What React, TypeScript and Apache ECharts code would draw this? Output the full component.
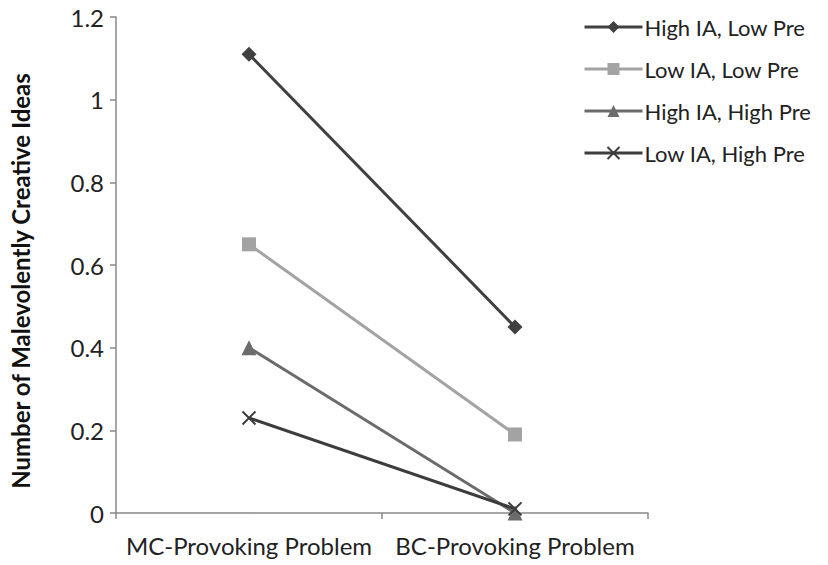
import React, { useEffect, useRef } from "react";
import * as echarts from "echarts";

const categories = ["MC-Provoking Problem", "BC-Provoking Problem"];
const seriesNames = ["High IA, Low Pre", "Low IA, Low Pre", "High IA, High Pre", "Low IA, High Pre"];
const highIALowPre = [1.11, 0.45];
const lowIALowPre = [0.65, 0.19];
const highIAHighPre = [0.4, 0.0];
const lowIAHighPre = [0.23, 0.01];
const yTicks = { min: 0, max: 1.2, interval: 0.2 };

const FONT = "Lato, 'Open Sans', sans-serif";

export default function App() {
  const ref = useRef<HTMLDivElement>(null);
  useEffect(() => {
    if (!ref.current) return;
    const chart = echarts.init(ref.current, undefined, { renderer: "svg" });
    const mk = (
      name: string,
      data: number[],
      color: string,
      symbol: string,
      symbolSize: number,
      extra: any = {}
    ) => ({
      name,
      type: "line",
      data,
      symbol,
      symbolSize,
      lineStyle: { color, width: 3 },
      itemStyle: { color, ...extra },
      z: 3,
    });
    chart.setOption({
      animation: false,
      textStyle: { fontFamily: FONT },
      grid: { left: 114, right: 180, top: 17, bottom: 52, containLabel: false },
      legend: {
        orient: "vertical",
        left: 578,
        top: 11,
        itemWidth: 58,
        itemHeight: 15,
        itemGap: 20,
        data: seriesNames,
        lineStyle: { width: 3 },
        textStyle: { fontSize: 22, color: "#222", fontFamily: FONT, padding: [0, 0, 0, -3] },
      },
      xAxis: {
        type: "category",
        data: categories,
        boundaryGap: true,
        axisLine: { show: true, lineStyle: { color: "#888", width: 1.5 } },
        axisTick: { show: true, length: 6, inside: false, alignWithLabel: false, lineStyle: { color: "#888", width: 1.5 } },
        axisLabel: { interval: 0, hideOverlap: false, fontSize: 24, color: "#222", margin: 20, fontFamily: FONT },
      },
      yAxis: {
        type: "value",
        min: yTicks.min,
        max: yTicks.max,
        interval: yTicks.interval,
        name: "Number of Malevolently Creative Ideas",
        nameLocation: "middle",
        nameGap: 84,
        nameTextStyle: {
          fontSize: 24,
          fontWeight: "bold",
          color: "#111",
          fontFamily: FONT,
          padding: [0, 32, 0, 0],
        },
        axisLine: { show: true, lineStyle: { color: "#888", width: 1.5 } },
        axisTick: { show: true, length: 6, lineStyle: { color: "#888", width: 1.5 } },
        splitLine: { show: false },
        axisLabel: { fontSize: 24, color: "#222", margin: 12, fontFamily: FONT },
      },
      series: [
        mk(seriesNames[0], highIALowPre, "#404040", "diamond", 15),
        mk(seriesNames[1], lowIALowPre, "#a3a3a3", "rect", 14),
        mk(seriesNames[2], highIAHighPre, "#6b6b6b", "triangle", 15),
        mk(seriesNames[3], lowIAHighPre, "#3c3c3c", "path://M0,0L10,10M10,0L0,10", 13, {
          borderColor: "#3c3c3c",
          borderWidth: 2,
        }),
      ],
    });
    return () => chart.dispose();
  }, []);
  return (
    <div
      ref={ref}
      style={{ position: "fixed", left: 0, top: 0, width: 828, height: 565, background: "#fff" }}
    />
  );
}
